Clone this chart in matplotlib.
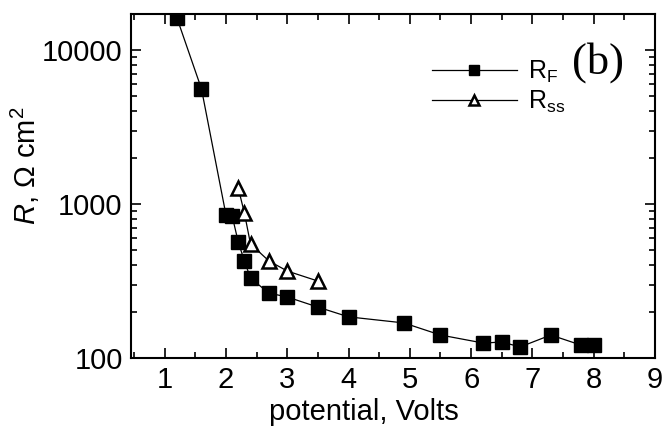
import matplotlib
matplotlib.use("Agg")
import matplotlib.pyplot as plt
from matplotlib.ticker import LogLocator, NullFormatter, FixedLocator, MultipleLocator

plt.rcParams["font.family"] = ["Liberation Sans", "DejaVu Sans"]
plt.rcParams["mathtext.fontset"] = "custom"
plt.rcParams["mathtext.rm"] = "Liberation Sans"
plt.rcParams["mathtext.it"] = "Liberation Sans:italic"

# R_F (filled squares) and R_ss (open triangles), Ohm cm^2 vs potential (V)
rf_v = [1.2, 1.6, 2.0, 2.1, 2.2, 2.3, 2.4, 2.7, 3.0, 3.5, 4.0, 4.9, 5.5, 6.2, 6.5, 6.8, 7.3, 7.8, 8.0]
rf_r = [16150, 5590, 849, 840, 566, 427, 330, 264, 249, 214, 185, 169, 141, 125, 127, 118, 141, 121, 122]

rss_v = [2.2, 2.3, 2.4, 2.7, 3.0, 3.5]
rss_r = [1270, 875, 550, 427, 367, 316]

x_ticks = [1, 2, 3, 4, 5, 6, 7, 8, 9]
y_ticks = [100, 1000, 10000]

fig = plt.figure(figsize=(6.65, 4.3), dpi=100)
ax = fig.add_axes([131 / 665, 1 - 358 / 430, 524 / 665, 344 / 430])

ax.plot(rf_v, rf_r, color="black", lw=0.9, marker="s", ms=10.5,
        mfc="black", mec="black", label=r"R$_\mathregular{F}$")
ax.plot(rss_v, rss_r, color="black", lw=0.9, marker="^", ms=10.5,
        mfc="white", mec="black", mew=1.8, label=r"R$_\mathregular{ss}$")

ax.set_yscale("log")
ax.set_xlim(0.45, 9.0)
ax.set_ylim(100, 17140)
ax.xaxis.set_major_locator(FixedLocator(x_ticks))
ax.xaxis.set_minor_locator(MultipleLocator(0.5))
ax.yaxis.set_major_locator(FixedLocator(y_ticks))
ax.set_yticklabels([str(v) for v in y_ticks])
ax.yaxis.set_minor_locator(LogLocator(base=10, subs=range(2, 10)))
ax.yaxis.set_minor_formatter(NullFormatter())

ax.tick_params(which="both", direction="in", top=True, right=True, width=1.2)
ax.tick_params(which="major", length=7, labelsize=21, pad=6)
ax.tick_params(which="minor", length=4)
for s in ax.spines.values():
    s.set_linewidth(1.5)

ax.set_xlabel("potential, Volts", fontsize=21)
ax.xaxis.set_label_coords(0.445, -0.115)
ax.set_ylabel(r"$\mathit{R}$, $\Omega$ cm$^\mathregular{2}$", fontsize=21)
ax.yaxis.set_label_coords(-0.17, 0.56)

ax.legend(loc="upper left", bbox_to_anchor=(0.574, 0.87), frameon=False,
          fontsize=18, handlelength=3.4, handletextpad=0.45, labelspacing=0.15,
          borderaxespad=0, borderpad=0, markerscale=0.75)

ax.text(0.891, 0.858, "(b)", transform=ax.transAxes, ha="center", va="center",
        fontsize=32, family=["Liberation Serif", "DejaVu Serif"])

fig.savefig("out.png", dpi=100)
